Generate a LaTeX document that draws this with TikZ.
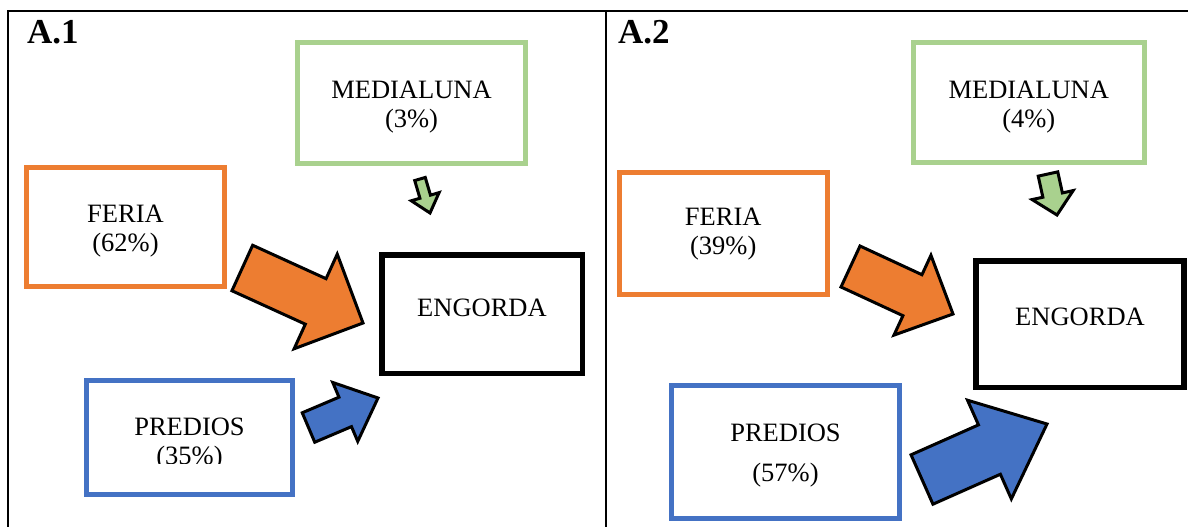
\documentclass[tikz,border=0pt]{standalone}
\usepackage{fontspec}
\setmainfont{Liberation Serif}
\usetikzlibrary{positioning, calc}

\definecolor{cgreen}{HTML}{A9D18E}
\definecolor{corange}{HTML}{ED7D31}
\definecolor{cblue}{HTML}{4472C4}

% tail, tip, shaft half width, head half width, head length, fill
\newcommand{\blockarrow}[6]{%
  \coordinate (neck) at ($(#2)!#5!(#1)$);
  \draw[barrow, fill=#6]
    ($(#1)!#3!90:(#2)$) -- ($(neck)!#3!90:(#2)$) -- ($(neck)!#4!90:(#2)$)
    -- (#2) -- ($(neck)!#4!-90:(#2)$) -- ($(neck)!#3!-90:(#2)$)
    -- ($(#1)!#3!-90:(#2)$) -- cycle;}

\begin{document}
\begin{tikzpicture}[x=1pt, y=-1pt,
    box/.style={draw, line width=5pt, inner sep=0pt},
    txt/.style={align=center, inner sep=0pt, font=\fontsize{26.5}{29}\selectfont},
    panel/.style={anchor=base west, inner sep=0pt, font=\fontsize{35}{40}\selectfont\bfseries},
    barrow/.style={draw=black, line width=3pt},
    frame/.style={line width=2pt}]
    \useasboundingbox (0,0) rectangle (1188,527);

    \draw[frame] (1188,11) -- (7.5,11) -- (7.5,527);
    \draw[frame] (606,11) -- (606,527);

    \node[panel] (a1) at (27,43.3) {A.1};
    \node[panel] (a2) at (618,43.3) {A.2};

    % A.1
    \node[box, draw=cgreen, minimum width=228pt, minimum height=121pt] (med1) at (411.5,103) {};
    \node[box, draw=corange, minimum width=198pt, minimum height=119pt] (fer1) at (125.5,227) {};
    \node[box, line width=5.5pt, minimum width=200.5pt, minimum height=118.5pt] (eng1) at (482,314) {};
    \node[box, draw=cblue, minimum width=206pt, minimum height=114pt] (pre1) at (189.5,437.5) {};

    \node[txt, below=41pt of med1.north] (med1t) {MEDIALUNA\\(3\%)};
    \node[txt, below=40pt of fer1.north] (fer1t) {FERIA\\(62\%)};
    \node[txt, below=47pt of eng1.north] (eng1t) {ENGORDA};
    \begin{scope}
      \clip (80,370) rectangle (300,463);
      \node[txt, below=40pt of pre1.north] (pre1t) {PREDIOS\\(35\%)};
    \end{scope}

    \coordinate (g1t) at (420,179);   \coordinate (g1h) at (430,213);
    \coordinate (o1t) at (242.3,268); \coordinate (o1h) at (363,323);
    \coordinate (b1t) at (308.5,427.5); \coordinate (b1h) at (378,398);
    \blockarrow{g1t}{g1h}{5.5pt}{14.5pt}{17pt}{cgreen}
    \blockarrow{o1t}{o1h}{25pt}{52pt}{52pt}{corange}
    \blockarrow{b1t}{b1h}{16pt}{32pt}{35.6pt}{cblue}

    % A.2
    \node[box, draw=cgreen, minimum width=230.5pt, minimum height=120pt] (med2) at (1028.75,102.5) {};
    \node[box, draw=corange, minimum width=207.5pt, minimum height=122pt] (fer2) at (723.25,233.5) {};
    \node[box, line width=5.5pt, minimum width=208pt, minimum height=126.5pt] (eng2) at (1080,324) {};
    \node[box, draw=cblue, minimum width=228pt, minimum height=133pt] (pre2) at (785.5,452) {};

    \node[txt, below=41pt of med2.north] (med2t) {MEDIALUNA\\(4\%)};
    \node[txt, below=38pt of fer2.north] (fer2t) {FERIA\\(39\%)};
    \node[txt, below=50pt of eng2.north] (eng2t) {ENGORDA};
    \node[txt, below=41pt of pre2.north] (pre2t) {PREDIOS\\[11pt](57\%)};

    \coordinate (g2t) at (1048,174);  \coordinate (g2h) at (1057,215);
    \coordinate (o2t) at (850.5,266.5); \coordinate (o2h) at (953,314);
    \coordinate (b2t) at (922,479.5); \coordinate (b2h) at (1047,424);
    \blockarrow{g2t}{g2h}{10pt}{21pt}{20.4pt}{cgreen}
    \blockarrow{o2t}{o2h}{22.6pt}{44pt}{44.7pt}{corange}
    \blockarrow{b2t}{b2h}{27pt}{54pt}{63pt}{cblue}
\end{tikzpicture}
\end{document}
